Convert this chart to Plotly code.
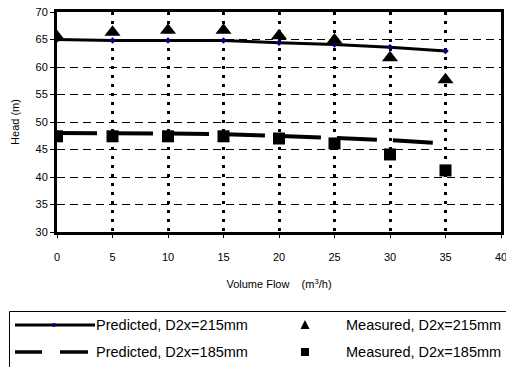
import plotly.graph_objects as go

# ---- data ----
flow = [0, 5, 10, 15, 20, 25, 30, 35]
pred_215 = [65.0, 64.8, 64.8, 64.8, 64.4, 64.1, 63.6, 62.9]
meas_215 = [65.5, 66.3, 66.7, 66.7, 65.7, 64.9, 61.7, 57.7]
pred_185 = [48.0, 48.0, 47.9, 47.8, 47.5, 47.1, 46.7, 46.1]
meas_185 = [47.4, 47.4, 47.4, 47.4, 47.0, 46.1, 44.1, 41.2]

x_ticks = [0, 5, 10, 15, 20, 25, 30, 35, 40]
y_ticks = [30, 35, 40, 45, 50, 55, 60, 65, 70]

names = ["Predicted, D2x=215mm", "Measured, D2x=215mm",
         "Predicted, D2x=185mm", "Measured, D2x=185mm"]

W, H = 506, 367
ML, MR, MT, MB = 57, 5, 12, 135
FONT = "Liberation Sans, Arial, sans-serif"

fig = go.Figure()
fig.add_trace(go.Scatter(x=flow, y=pred_185, mode="lines", name=names[2],
                         line=dict(color="black", width=4, dash="40px,16px")))
fig.add_trace(go.Scatter(x=flow, y=pred_215, mode="lines+markers", name=names[0],
                         line=dict(color="black", width=3),
                         marker=dict(color="#000080", size=5, symbol="diamond")))
fig.add_trace(go.Scatter(x=flow, y=meas_215, mode="markers", name=names[1],
                         marker=dict(color="black", size=14, symbol="triangle-up")))
fig.add_trace(go.Scatter(x=flow, y=meas_185, mode="markers", name=names[3],
                         marker=dict(color="black", size=12, symbol="square")))

fig.update_xaxes(range=[0, 40], tickvals=x_ticks, ticktext=[str(v) for v in x_ticks],
                 showline=True, linewidth=3, linecolor="black", mirror=True,
                 ticks="outside", ticklen=3, tickcolor="black", tickwidth=1,
                 showgrid=True, gridcolor="black", gridwidth=3, griddash="3px,6px",
                 zeroline=False, ticklabelstandoff=10, automargin=False,
                 ticklabeloverflow="allow",
                 tickfont=dict(size=11, color="black", family=FONT),
                 title=dict(text="Volume Flow    (m<sup>3</sup>/h)", standoff=19,
                            font=dict(size=11, color="black", family=FONT)))
fig.update_yaxes(range=[30, 70], tickvals=y_ticks, ticktext=[str(v) for v in y_ticks],
                 showline=True, linewidth=3, linecolor="black", mirror=True,
                 ticks="outside", ticklen=4, tickcolor="black", tickwidth=1,
                 showgrid=True, gridcolor="black", gridwidth=1, griddash="8px,5px",
                 zeroline=False, automargin=False, ticklabeloverflow="allow",
                 tickfont=dict(size=11, color="black", family=FONT),
                 title=dict(text="Head (m)", standoff=14,
                            font=dict(size=11, color="black", family=FONT)))

# ---- manual legend (pixel positions converted to paper coordinates) ----
PW = W - ML - MR
PH = H - MT - MB


def px(x):
    return (x - ML) / PW


def py(y):
    return (H - MB - y) / PH


shapes = []
annotations = []
shapes.append(dict(type="rect", xref="paper", yref="paper",
                   x0=px(9.5), x1=px(520), y0=py(311.5), y1=py(372),
                   line=dict(color="black", width=1), fillcolor="white", layer="above"))
r1, r2 = 325, 352
# solid line sample
shapes.append(dict(type="line", xref="paper", yref="paper",
                   x0=px(15), x1=px(95), y0=py(r1), y1=py(r1),
                   line=dict(color="black", width=3)))
shapes.append(dict(type="circle", xref="paper", yref="paper",
                   x0=px(52), x1=px(56), y0=py(r1 - 2), y1=py(r1 + 2),
                   line=dict(color="#000080", width=0), fillcolor="#000080"))
# dashed line sample
for a, b in [(15, 42), (60, 88)]:
    shapes.append(dict(type="line", xref="paper", yref="paper",
                       x0=px(a), x1=px(b), y0=py(r2), y1=py(r2),
                       line=dict(color="black", width=3.5)))
# triangle
tx, tyy = 305, r1
shapes.append(dict(type="path", xref="paper", yref="paper",
                   path="M {} {} L {} {} L {} {} Z".format(px(tx - 4.5), py(tyy + 4),
                                                         px(tx + 4.5), py(tyy + 4),
                                                         px(tx), py(tyy - 5)),
                   line=dict(color="black", width=0), fillcolor="black"))
# square
shapes.append(dict(type="rect", xref="paper", yref="paper",
                   x0=px(301), x1=px(309), y0=py(r2 - 4), y1=py(r2 + 4),
                   line=dict(color="black", width=0), fillcolor="black"))

for name, x, y in [(names[0], 94, r1), (names[2], 94, r2),
                   (names[1], 344, r1), (names[3], 344, r2)]:
    annotations.append(dict(xref="paper", yref="paper", x=px(x), y=py(y),
                            text=name, showarrow=False, xanchor="left", yanchor="middle",
                            font=dict(size=14.5, color="black", family=FONT)))

fig.update_layout(width=W, height=H, margin=dict(l=ML, r=MR, t=MT, b=MB),
                  paper_bgcolor="white", plot_bgcolor="white",
                  showlegend=False, shapes=shapes, annotations=annotations,
                  font=dict(family=FONT, color="black"))

fig.write_html("out.html",
               config={"displayModeBar": False},
               post_script="document.body.style.margin='0';"
                           "document.documentElement.style.overflow='hidden';")
